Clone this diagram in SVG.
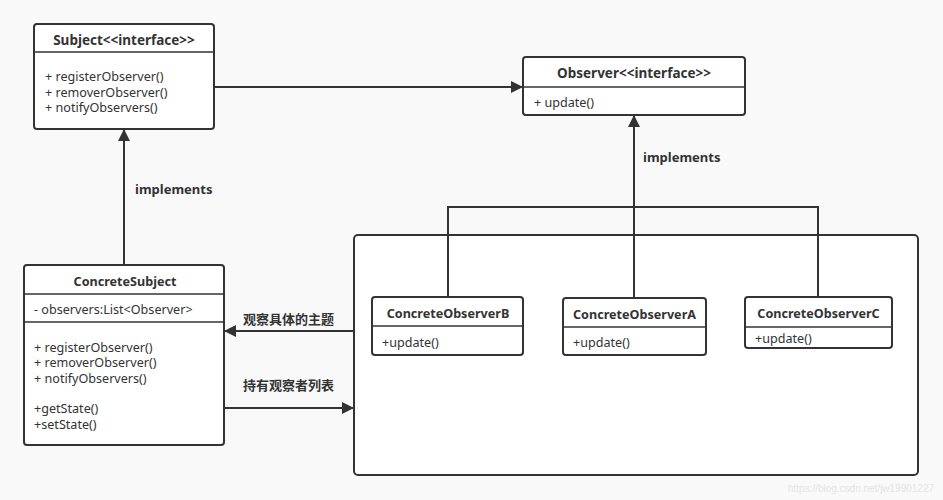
<svg xmlns="http://www.w3.org/2000/svg" width="943" height="500" viewBox="0 0 943 500">
<defs>
<style>
.box{fill:#fff;stroke:#333;stroke-width:2}
.div{stroke:#333;stroke-width:1.5}
.ln{stroke:#333;stroke-width:2;fill:none}
text{font-family:"Noto Sans","Noto Sans CJK SC",sans-serif;font-size:12.6px;fill:#333}
.t{font-weight:bold;text-anchor:middle;font-size:13.5px}
.c{font-weight:bold;text-anchor:middle;font-size:12.6px}
.lb{font-weight:bold;font-size:13px}
.wm{fill:#e4e4e4;font-family:"Liberation Sans",sans-serif;font-size:10.5px}
</style>
<marker id="arr" viewBox="0 0 10 10" refX="10" refY="5" markerWidth="16" markerHeight="12" markerUnits="userSpaceOnUse" orient="auto">
<path d="M0,0 L10,5 L0,10 Z" fill="#333"/>
</marker>
</defs>
<rect width="943" height="500" fill="#f9f9f9"/>
<g id="container"><rect class="box" x="354" y="235" width="564" height="240" rx="4"/></g>
<g id="connectors">
<line class="ln" x1="214" y1="87" x2="523" y2="87" marker-end="url(#arr)"/>
<line class="ln" x1="124" y1="265" x2="124" y2="129" marker-end="url(#arr)"/>
<line class="ln" x1="634" y1="298" x2="634" y2="115" marker-end="url(#arr)"/>
<polyline class="ln" points="448,297 448,207 818,207 818,297"/>
<line class="ln" x1="354" y1="331" x2="224" y2="331" marker-end="url(#arr)"/>
<line class="ln" x1="224" y1="408" x2="354" y2="408" marker-end="url(#arr)"/>
<text class="lb" x="135" y="194">implements</text>
<text class="lb" x="643" y="162">implements</text>
<text class="lb" x="243" y="324">观察具体的主题</text>
<text class="lb" x="243" y="390">持有观察者列表</text>
</g>
<g id="subject">
<rect class="box" x="34" y="24" width="180" height="105" rx="3"/>
<line class="div" x1="34" y1="52" x2="214" y2="52"/>
<text class="t" x="124" y="45">Subject&lt;&lt;interface&gt;&gt;</text>
<text x="45" y="81">+ registerObserver()</text>
<text x="45" y="97">+ removerObserver()</text>
<text x="45" y="112">+ notifyObservers()</text>
</g>
<g id="observer">
<rect class="box" x="523" y="57" width="222" height="58" rx="3"/>
<line class="div" x1="523" y1="87" x2="745" y2="87"/>
<text class="t" x="634" y="78">Observer&lt;&lt;interface&gt;&gt;</text>
<text x="534" y="107">+ update()</text>
</g>
<g id="concreteSubject">
<rect class="box" x="24" y="265" width="200" height="180" rx="3"/>
<line class="div" x1="24" y1="294" x2="224" y2="294"/>
<line class="div" x1="24" y1="322" x2="224" y2="322"/>
<text class="c" x="125" y="286">ConcreteSubject</text>
<text x="34" y="314">- observers:List&lt;Observer&gt;</text>
<text x="34" y="352">+ registerObserver()</text>
<text x="34" y="367">+ removerObserver()</text>
<text x="34" y="383">+ notifyObservers()</text>
<text x="34" y="413">+getState()</text>
<text x="34" y="429">+setState()</text>
</g>
<g id="concreteObserverB">
<rect class="box" x="372" y="297" width="151" height="58" rx="3"/>
<line class="div" x1="372" y1="326" x2="523" y2="326"/>
<text class="c" x="448" y="318">ConcreteObserverB</text>
<text x="382" y="347">+update()</text>
</g>
<g id="concreteObserverA">
<rect class="box" x="563" y="298" width="143" height="57" rx="3"/>
<line class="div" x1="563" y1="327" x2="706" y2="327"/>
<text class="c" x="634.5" y="319">ConcreteObserverA</text>
<text x="573" y="347">+update()</text>
</g>
<g id="concreteObserverC">
<rect class="box" x="745" y="297" width="147" height="51" rx="3"/>
<line class="div" x1="745" y1="327" x2="892" y2="327"/>
<text class="c" x="818.5" y="318">ConcreteObserverC</text>
<text x="755" y="343">+update()</text>
</g>
<text class="wm" x="788" y="492" textLength="146" lengthAdjust="spacingAndGlyphs">https://blog.csdn.net/jw19901227</text>
</svg>
